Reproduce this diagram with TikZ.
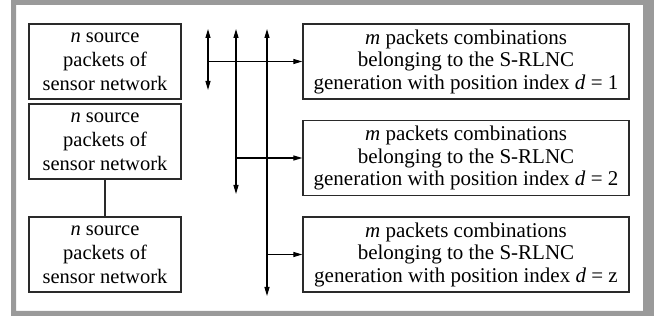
\documentclass[tikz,border=0pt]{standalone}
\usepackage{fontspec}
\setmainfont{Liberation Serif}
\usetikzlibrary{arrows.meta}
\definecolor{framegray}{HTML}{9A9A9A}
\definecolor{boxline}{HTML}{2A2A2A}
\begin{document}
\begin{tikzpicture}[x=1pt,y=-1pt,
  box/.style={draw=boxline, line width=1.3pt, align=center, inner sep=0pt},
  lbox/.style={box, minimum width=152pt, minimum height=75pt, font=\fontsize{20.5}{24}\selectfont},
  rbox/.style={box, minimum width=326pt, minimum height=75pt, font=\fontsize{21}{22.5}\selectfont},
  conn/.style={draw=boxline, line width=1.3pt},
  arr/.style={line width=1.2pt, -{Triangle[length=9pt,width=5pt]}},
  darr/.style={line width=1.2pt, {Triangle[length=9pt,width=5pt]}-{Triangle[length=9pt,width=5pt]}}]
\useasboundingbox (0,0) rectangle (654,320);
\fill[framegray, even odd rule] (11,0) rectangle (654,316) (16,5) rectangle (643,311);

\node[lbox] (l1) at (105,61.5) {\textit{n} source\\packets of\\sensor network};
\node[lbox] (l2) at (105,141.5) {\textit{n} source\\packets of\\sensor network};
\node[lbox] (l3) at (105,254.5) {\textit{n} source\\packets of\\sensor network};
\draw[conn] (l2.south) -- (l3.north);

\node[rbox] (r1) at (466,61.5) {\textit{m} packets combinations\\belonging to the S-RLNC\\generation with position index \textit{d} = 1};
\node[rbox] (r2) at (466,158) {\textit{m} packets combinations\\belonging to the S-RLNC\\generation with position index \textit{d} = 2};
\node[rbox] (r3) at (466,254.5) {\textit{m} packets combinations\\belonging to the S-RLNC\\generation with position index \textit{d} = z};

\coordinate (v1t) at (208,29);
\coordinate (v1b) at (208,90);
\coordinate (v2t) at (236,29);
\coordinate (v2b) at (236,194);
\coordinate (v3t) at (267,29);
\coordinate (v3b) at (267,296);

\draw[darr] (v1b) -- (v1t);
\draw[darr] (v2b) -- (v2t);
\draw[darr] (v3b) -- (v3t);

\draw[arr] (v1t |- r1.west) -- (r1.west);
\draw[arr] (v2t |- r2.west) -- (r2.west);
\draw[arr] (v3t |- r3.west) -- (r3.west);
\end{tikzpicture}
\end{document}
